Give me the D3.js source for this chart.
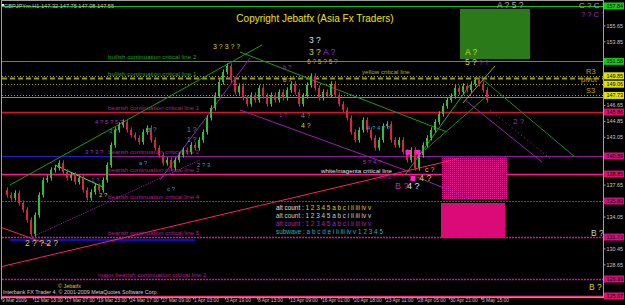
<!DOCTYPE html>
<html>
<head>
<meta charset="utf-8">
<script src="https://cdn.jsdelivr.net/npm/d3@7"></script>
<style>
  html, body { margin: 0; padding: 0; background: #000; }
  svg { display: block; font-family: "Liberation Sans", Arial, sans-serif; }
</style>
</head>
<body>
<div id="chart"></div>
<script>
// GBPJPY H1, closes (one every 2 bars)
const closes = [137.05,136.49,136.15,136.71,135.58,134.79,133.66,132.08,134.22,136.49,
  138.18,138.41,139.31,139.54,140.10,139.08,138.41,138.74,137.95,138.41,
  137.05,136.15,136.82,137.50,137.05,138.18,139.87,142.13,143.83,144.39,
  144.73,143.83,143.26,142.93,142.47,143.60,144.06,142.70,141.80,141.00,
  140.10,140.44,139.54,140.44,141.00,141.57,141.34,142.13,141.80,142.70,
  143.60,145.19,146.32,147.78,149.25,150.38,151.06,149.48,148.12,148.80,
  147.45,146.77,147.78,147.22,148.58,147.67,146.77,147.78,147.22,148.12,
  147.45,148.35,149.03,148.12,146.77,147.67,148.91,149.93,148.58,147.45,
  148.12,147.78,149.03,147.78,146.77,146.09,145.19,143.60,142.70,143.83,
  144.96,143.83,142.93,141.80,142.70,144.28,144.51,142.70,142.13,142.70,
  141.34,140.44,141.57,139.54,141.00,142.13,142.93,143.83,144.73,145.64,
  146.54,147.22,147.67,148.58,148.12,148.80,148.35,149.03,149.48,149.03,
  148.35,147.22];

const timeLabels = ["9 Mar 2009","12 Mar 13:00","17 Mar 07:00","19 Mar 23:00","24 Mar 17:00",
  "27 Mar 09:00","1 Apr 03:00","3 Apr 19:00","8 Apr 13:00","13 Apr 09:00","16 Apr 01:00",
  "20 Apr 18:00","23 Apr 11:00","28 Apr 05:00","30 Apr 21:00","5 May 15:00"];

const priceTicks = [155.65,153.85,152.05,150.25,148.45,146.65,144.85,143.05,141.25,
  139.45,137.65,135.85,134.05,132.25,130.45,128.65];

// horizontal levels: price, colour, dash, label
const levels = [
  {p:157.84, c:"#18b818", dash:null, tag:"157.84", tagC:"#18c818"},
  {p:151.58, c:"#18b818", dash:null, tag:"151.58", tagC:"#18c818", label:"bullish continuation critical line 2", lc:"#18a818"},
  {p:149.95, c:"#b0a020", dash:"1,2", tag:"149.85", tagC:"#e0e000"},
  {p:149.72, c:"#90a018", dash:"5,3", w:2, label:"bullish continuation critical line 1", lc:"#18a818"},
  {p:149.00, c:"#b0a020", dash:"1,2", tag:"149.06", tagC:"#e0e000"},
  {p:147.73, c:"#b0a020", dash:"1,2", tag:"147.73", tagC:"#e0e000"},
  {p:147.55, c:"#8a8a8a", dash:null},
  {p:145.86, c:"#e01028", dash:null, w:1.5, tag:"145.86", tagC:"#e0106a", label:"bearish continuation critical line 1", lc:"#b0208a"},
  {p:140.89, c:"#8a1c9a", dash:null, tag:"140.89", tagC:"#d01078", label:"bearish continuation critical line 2", lc:"#b0208a"},
  {p:138.85, c:"#ff1a8a", dash:null, w:1.5, tag:"138.85", tagC:"#e0106a", label:"bearish continuation critical line 3", lc:"#b0208a"},
  {p:135.80, c:"#9020b0", dash:"2,1", tag:"135.80", tagC:"#d01078", label:"bearish continuation critical line 4", lc:"#b0208a"},
  {p:131.73, c:"#c02090", dash:"2,1", w:1.5, tag:"131.73", tagC:"#d01078", label:"bearish continuation critical line 5", lc:"#b0208a"},
  {p:126.99, c:"#b02090", dash:"2,1", w:1.5, tag:"126.99", tagC:"#d01078", label:"major bearish continuation critical line 1", lc:"#b0208a"},
  {p:125.07, c:"#ff2a7a", dash:null, w:1.5, tag:"125.07", tagC:"#e0106a"}
];

// trend lines: [idx1, price1, idx2, price2, colour, dash]
const trendLines = [
  [1.75,137.61, 64.75,153.43, "#1a9a1a", null],
  [59.25,152.64, 111,143.60, "#1a9a1a", null],
  [119.25,149.81, 143,140.77, "#1a8a1a", null],
  [100.5,138.74, 116.75,148.91, "#20b020", null],
  [105.5,141.57, 121.25,147.78, "#1a8a1a", null],
  [115,146.88, 123,151.06, "#a0a020", null],
  [13,139.87, 25,137.38, "#30ff30", null],
  [39.25,138.18, 61.75,151.96, "#9a20b0", null],
  [7.25,131.73, 49.25,140.44, "#9a20b0", "1,1"],
  [59.25,146.09, 101.75,139.09, "#9a20b0", null],
  [115.5,147.21, 134.75,140.21, "#9a20b0", null],
  [121.75,146.09, 137.25,140.44, "#b030c0", "1,3"],
  [103.5,138.51, 117.5,135.92, "#9a20b0", null],
  [-0.75,128.35, 114,140.60, "#ff2060", null],
  [-0.75,132.86, 11.75,130.83, "#ff2060", null]
];

// boxes: [idx1, idx2, priceTop, priceBottom, fill]
const boxes = [
  [114.25,131.75, 157.50,151.85, "#2a7a1a"],
  [109.75,126, 140.77,136.03, "url(#dots)"],
  [109.5,125.5, 135.58,131.62, "#dc0a78"]
];

// wave count annotations: [idx, price, text, colour, size]
const waves = [
  [52.5,153.0,"3 ? 3 ? ?","#d8d020",7],
  [76.5,153.6,"3 ?","#e0e0e0",8.5],
  [76.5,152.3,"3 ?","#d8d020",8.5],
  [80,152.3,"A ?","#a030c0",8.5],
  [76,151.3,"6 ? 5 ? 5 ?","#c0b020",6.5],
  [115.5,152.3,"A ?","#d8d020",8.5],
  [115.5,151.2,"5 ?","#d8d020",8.5],
  [119,151.2,"? ?","#a030c0",7],
  [123.5,157.6,"A ? 5 ?","#b0b0b0",8.5],
  [144,157.6,"C ? C ?","#b0b0b0",8],
  [144.5,156.6,"? ? C ?","#a030c0",7.5],
  [127.5,144.5,"2 ?","#a030c0",8],
  [147,131.9,"B ?","#d0d0d0",8.5],
  [146.5,125.8,"B ?","#d8d020",8.5],
  [5.5,130.7,"2 ? ? 2 ?","#d8d020",8.5],
  [104,138.1,"4 ?","#d8d020",9],
  [98,137.2,"B ?","#a030c0",9],
  [101,137.2,"4 ?","#e0e0e0",9],
  [105.5,139.1,"c ?","#d8d020",7],
  [23,144.5,"4 ? 5 ? 5 ?","#a030c0",6],
  [26.5,143.5,"3 ?","#20a0c0",6],
  [36,143.6,"a ?","#20a0c0",7],
  [46,143.6,"1 ?","#20a0c0",7],
  [46,142.5,"1 ?","#20a0c0",7],
  [20.5,141.1,"3 ? 3 ?","#a030c0",6],
  [34,139.9,"a ?","#20a0c0",6],
  [48.5,139.7,"2 ? 3","#20a0c0",6],
  [22,137.9,"1 ?","#a030c0",6],
  [41,136.9,"c ?","#20a0c0",6],
  [24,136.3,"2 ?","#d8d020",6],
  [74.5,145.2,"4 ?","#20a0c0",7],
  [74.5,144.1,"4 ?","#d8d020",7],
  [69,145.3,"1 ?","#a030c0",6],
  [70,150.7,"b ?","#a030c0",6],
  [70,149.3,"b ?","#d8d020",6],
  [91,143.8,"4 ? 4 ? ?","#20a0c0",6],
  [90,140.0,"5 ? 4 ?","#a030c0",6],
  [94,138.3,"8 ? c ?","#a030c0",5.5]
];

const legendRows = [
  ["alt count : ","1 2 3 4 5 a b c i ii iii iv v","#e0e0e0","#d8d020"],
  ["alt count : ","1 2 3 4 5 a b c i ii iii iv v","#d0d0d0","#d0d0d0"],
  ["alt count : ","1 2 3 4 5 a b c i ii iii iv v","#b020c0","#b020c0"],
  ["subwave : ","a b c d e i ii iii iv v 1 2 3 4 5","#20b0c0","#20b0c0"]
];

const W = 625, H = 305;
const plotL = 2, plotR = 603, plotT = 1, plotB = 297;

const svg = d3.select("#chart").append("svg").attr("width", W).attr("height", H);
svg.append("rect").attr("width", W).attr("height", H).attr("fill", "#000");

const defs = svg.append("defs");
const pat = defs.append("pattern").attr("id", "dots").attr("width", 2).attr("height", 2)
  .attr("patternUnits", "userSpaceOnUse");
pat.append("rect").attr("width", 2).attr("height", 2).attr("fill", "#6a1040");
pat.append("rect").attr("width", 1).attr("height", 1).attr("fill", "#e0208a");
defs.append("clipPath").attr("id", "plot").append("rect")
  .attr("x", plotL).attr("y", plotT).attr("width", plotR - plotL).attr("height", plotB - plotT);

const x = d3.scaleLinear().domain([0, 150]).range([3, 603]);
const y = d3.scaleLinear().domain([126, 158]).range([287.75, 4.55]);

const g = svg.append("g").attr("clip-path", "url(#plot)");

// horizontal levels
levels.forEach(l => {
  g.append("line").attr("x1", plotL).attr("x2", plotR)
    .attr("y1", Math.round(y(l.p)) + 0.5).attr("y2", Math.round(y(l.p)) + 0.5)
    .attr("stroke", l.c).attr("stroke-width", l.w || 1)
    .attr("stroke-dasharray", l.dash);
});
// blue segments
g.append("line").attr("x1", plotL).attr("x2", x(27)).attr("y1", Math.round(y(140.89)) + 0.5)
  .attr("y2", Math.round(y(140.89)) + 0.5).attr("stroke", "#2020c0");
g.append("line").attr("x1", x(1.75)).attr("x2", x(48)).attr("y1", y(131.40)).attr("y2", y(131.40))
  .attr("stroke", "#1010b0").attr("stroke-width", 2.5);

// boxes
g.selectAll("rect.box").data(boxes).enter().append("rect").attr("class", "box")
  .attr("x", d => x(d[0])).attr("width", d => x(d[1]) - x(d[0]))
  .attr("y", d => y(d[2])).attr("height", d => y(d[3]) - y(d[2]))
  .attr("fill", d => d[4]);

// trend lines
g.selectAll("line.tl").data(trendLines).enter().append("line").attr("class", "tl")
  .attr("x1", d => x(d[0])).attr("y1", d => y(d[1]))
  .attr("x2", d => x(d[2])).attr("y2", d => y(d[3]))
  .attr("stroke", d => d[4]).attr("stroke-width", 1)
  .attr("stroke-dasharray", d => d[5]);

// level labels
g.selectAll("text.lvl").data(levels.filter(l => l.label)).enter().append("text")
  .attr("class", "lvl")
  .attr("x", l => l.label.startsWith("major") ? 98 : 108)
  .attr("y", l => y(l.p) - 2)
  .attr("fill", l => l.lc).attr("font-size", 6.2).text(l => l.label);
g.append("text").attr("x", 362).attr("y", y(149.95) - 1.5).attr("fill", "#b0b020")
  .attr("font-size", 6.2).text("yellow critical line");
g.append("text").attr("x", 321).attr("y", y(138.85) - 1.5).attr("fill", "#e0e0e0")
  .attr("font-size", 6.2).text("white/magenta critical line");
[["R3", 149.95, 586], ["pivot", 149.00, 581], ["S3", 147.73, 586]].forEach(d => {
  g.append("text").attr("x", d[2]).attr("y", y(d[1]) - 2).attr("fill", "#b0a020")
    .attr("font-size", 7.5).text(d[0]);
});

// candles
const bars = g.append("g");
closes.forEach((c, i) => {
  if (i === 0) return;
  const o = closes[i - 1];
  const up = c >= o;
  const col = up ? "#10e810" : "#ff1818";
  const hi = Math.max(o, c) + 0.3, lo = Math.min(o, c) - 0.3;
  bars.append("line").attr("x1", x(i) + 0.5).attr("x2", x(i) + 0.5)
    .attr("y1", y(hi)).attr("y2", y(lo)).attr("stroke", col);
  bars.append("rect").attr("x", x(i) - 1).attr("width", 2)
    .attr("y", y(Math.max(o, c))).attr("height", Math.max(1, Math.abs(y(o) - y(c))))
    .attr("fill", up ? "#30c030" : "#e02040");
});

// small magenta markers
[[101.25,141.3],[103.75,141.3],[102.5,138.35]].forEach(d => {
  g.append("rect").attr("x", x(d[0]) - 2.5).attr("y", y(d[1]) - 2.5).attr("width", 5).attr("height", 5)
    .attr("fill", "#ff20d0");
});

// wave labels
g.selectAll("text.wave").data(waves).enter().append("text").attr("class", "wave")
  .attr("x", d => x(d[0])).attr("y", d => y(d[1]))
  .attr("fill", d => d[3]).attr("font-size", d => d[4]).text(d => d[2]);

// legend
legendRows.forEach((r, i) => {
  const t = g.append("text").attr("x", 276).attr("y", 209.5 + i * 8.2).attr("font-size", 6.4);
  t.append("tspan").attr("fill", r[2]).text(r[0]);
  t.append("tspan").attr("fill", r[3]).text(r[1]);
});

// titles
g.append("text").attr("x", 315).attr("y", 22).attr("text-anchor", "middle")
  .attr("fill", "#e8e020").attr("font-size", 10).text("Copyright Jebatfx (Asia Fx Traders)");
g.append("text").attr("x", 4).attr("y", 8).attr("fill", "#c8c8c8").attr("font-size", 5.6)
  .text("GBPJPYm,H1  147.32 147.75 147.08 147.55");
g.append("rect").attr("x", 2).attr("y", 4).attr("width", 2).attr("height", 2).attr("fill", "#fff");
g.append("text").attr("x", 3).attr("y", 294).attr("fill", "#d0d0d0").attr("font-size", 5.4)
  .text("Interbank FX Trader 4, \u00a9 2001-2009 MetaQuotes Software Corp.");
g.append("text").attr("x", 58).attr("y", 288).attr("fill", "#d8d020").attr("font-size", 5.4)
  .text("\u00a9 Jebatfx");

// frame
svg.append("rect").attr("x", plotL - 0.5).attr("y", plotT - 0.5)
  .attr("width", plotR - plotL + 1).attr("height", plotB - plotT + 1)
  .attr("fill", "none").attr("stroke", "#a0a0a0");

// right price axis (ticks hidden under price tags are left out, as in the terminal)
const tagYs = levels.filter(l => l.tag).map(l => y(l.p));
const visTicks = priceTicks.filter(p => tagYs.every(t => Math.abs(t - y(p)) > 6));
const axR = svg.append("g").attr("transform", `translate(${plotR + 0.5},0)`)
  .call(d3.axisRight(y).tickValues(visTicks).tickSize(2).tickFormat(d3.format(".2f")));
axR.select(".domain").remove();
axR.selectAll("line").attr("stroke", "#a0a0a0");
axR.selectAll("text").attr("fill", "#c8c8c8").attr("font-size", 5.4)
  .attr("font-family", "Liberation Sans, Arial, sans-serif").attr("x", 3);

// price tags
levels.filter(l => l.tag).forEach(l => {
  const yy = y(l.p);
  svg.append("rect").attr("x", plotR + 1).attr("y", yy - 3.5).attr("width", 20).attr("height", 7)
    .attr("fill", l.tagC);
  svg.append("text").attr("x", plotR + 3.5).attr("y", yy + 2).attr("font-size", 5.4)
    .attr("fill", "#000").text(l.tag);
});

// bottom time axis
const tickIdx = timeLabels.map((t, i) => i === 0 ? -0.5 : 7.5 + (i - 1) * 8);
const axB = svg.append("g").attr("transform", `translate(0,${plotB + 0.5})`)
  .call(d3.axisBottom(x).tickValues(tickIdx).tickSize(2).tickFormat((d, i) => timeLabels[i]));
axB.select(".domain").remove();
axB.selectAll("line").attr("stroke", "#a0a0a0");
axB.selectAll("text").attr("fill", "#c8c8c8").attr("font-size", 4.9)
  .attr("font-family", "Liberation Sans, Arial, sans-serif")
  .attr("text-anchor", "start").attr("dx", 0.5).attr("y", 1.5).attr("dy", "0.71em");
</script>
</body>
</html>
